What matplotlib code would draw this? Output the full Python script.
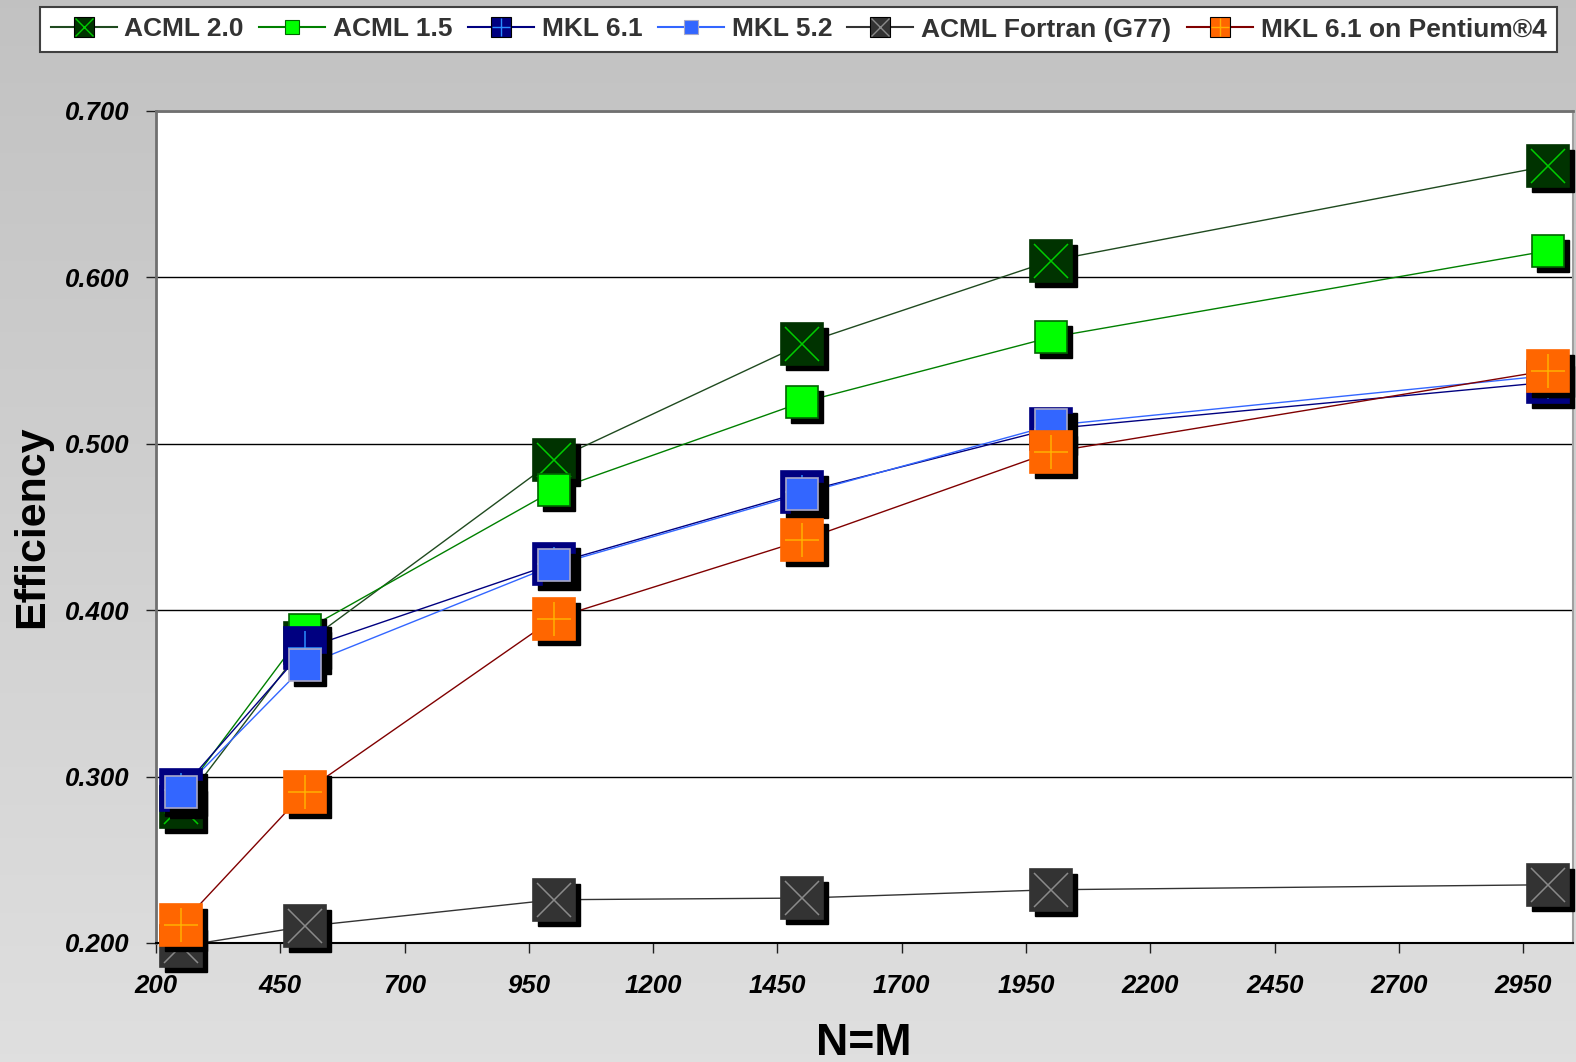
import matplotlib
matplotlib.use("Agg")
import matplotlib.pyplot as plt
from matplotlib.transforms import offset_copy
from matplotlib.lines import Line2D
from matplotlib.ticker import FormatStrFormatter
import numpy as np

plt.rcParams['font.family'] = ['Liberation Sans', 'DejaVu Sans']

# Data
sizes = [250, 500, 1000, 1500, 2000, 3000]
acml20 = [0.282, 0.380, 0.490, 0.560, 0.610, 0.667]
acml15 = [0.288, 0.388, 0.472, 0.525, 0.564, 0.616]
mkl61 = [0.292, 0.377, 0.428, 0.471, 0.509, 0.537]
mkl52 = [0.291, 0.367, 0.427, 0.470, 0.511, 0.541]
fortran = [0.198, 0.210, 0.226, 0.227, 0.232, 0.235]
mkl61_p4 = [0.211, 0.291, 0.395, 0.442, 0.495, 0.544]

labels = ["ACML 2.0", "ACML 1.5", "MKL 6.1", "MKL 5.2",
          "ACML Fortran (G77)", "MKL 6.1 on Pentium\u00ae4"]
values = [acml20, acml15, mkl61, mkl52, fortran, mkl61_p4]

xticks = list(range(200, 3000, 250))
yticks = [0.2, 0.3, 0.4, 0.5, 0.6, 0.7]

# line colour, face, edge, marker size, glyph, glyph colour
styles = [
    ("#1f4a1f", "#003300", "#003300", 30, "x", "#00cc00"),
    ("#008000", "#00ff00", "#006600", 23, None, None),
    ("#000080", "#000080", "#000080", 30, "+", "#2a8cff"),
    ("#3366ff", "#3366ff", "#a8a8c8", 23, None, None),
    ("#333333", "#333333", "#333333", 30, "x", "#8a8a8a"),
    ("#800000", "#ff6600", "#ff6600", 30, "+", "#ffb000"),
]

W, H = 1576, 1062
fig = plt.figure(figsize=(W / 100, H / 100), dpi=100)

# Gradient grey background
bg = fig.add_axes([0, 0, 1, 1], zorder=-10)
grad = np.linspace(0.76, 0.875, 256)
bg.imshow(np.dstack([grad, grad, grad]).reshape(256, 1, 3), aspect="auto",
          extent=[0, 1, 0, 1])
bg.axis("off")

ax = fig.add_axes([156 / W, 1 - 943 / H, (1573 - 156) / W, (943 - 111) / H])
ax.set_facecolor("white")

shadow_tr = offset_copy(ax.transData, fig=fig, x=5, y=-5, units="dots")

handles = []
for i, (lab, vals, st) in enumerate(zip(labels, values, styles)):
    lc, face, edge, ms, glyph, gc = st
    ax.plot(sizes, vals, color=lc, lw=1.0, zorder=2)
    z = 3 + i * 0.1
    ax.plot(sizes, vals, ls="none", marker="s", ms=ms, mfc="black",
            mec="black", transform=shadow_tr, zorder=z, clip_on=False)
    ax.plot(sizes, vals, ls="none", marker="s", ms=ms, mfc=face, mec=edge,
            mew=1.2, zorder=z + 0.01, clip_on=False)
    if glyph:
        ax.plot(sizes, vals, ls="none", marker=glyph, ms=ms * 0.8, mec=gc,
                mew=1.1, zorder=z + 0.02, clip_on=False)
    lms = 15 if ms == 30 else 9.5
    h_line = Line2D([], [], color=lc, lw=1.5, marker="s", ms=lms,
                    mfc=face, mec=edge if ms != 30 else "black", mew=0.8)
    if glyph:
        h_glyph = Line2D([], [], ls="none", marker=glyph, ms=lms * 0.85,
                         mec=gc, mew=1.0)
        handles.append((h_line, h_glyph))
    else:
        handles.append(h_line)

ax.set_xlim(200, 3050)
ax.set_ylim(0.2, 0.7)
ax.set_xticks(xticks)
ax.set_yticks(yticks)
ax.yaxis.set_major_formatter(FormatStrFormatter("%.3f"))
ax.yaxis.grid(True, color="black", lw=1.0)
ax.set_axisbelow(True)
ax.tick_params(axis="both", direction="out", length=7, width=1,
               color="#202020", labelsize=18.5)
ax.tick_params(axis="x", pad=15)
ax.tick_params(axis="y", pad=12)
for lbl in ax.get_xticklabels() + ax.get_yticklabels():
    lbl.set_fontweight("bold")
    lbl.set_fontstyle("italic")

ax.spines["left"].set_color("#707070")
ax.spines["left"].set_linewidth(2)
ax.spines["top"].set_color("#707070")
ax.spines["top"].set_linewidth(2)
ax.spines["right"].set_color("#a0a0a0")
ax.spines["right"].set_linewidth(1.5)
ax.spines["bottom"].set_color("black")
ax.spines["bottom"].set_linewidth(1.5)

fig.text(32 / W, 1 - 527 / H, "Efficiency", rotation=90, fontsize=31,
         fontweight="bold", ha="center", va="center")
fig.text(864 / W, 7 / H, "N=M", fontsize=32, fontweight="bold",
         ha="center", va="baseline")

leg = fig.legend(handles, labels, ncol=6, loc="center",
                 bbox_to_anchor=(40 / W, 1 - 55 / H, 1517 / W, 51 / H),
                 mode="expand", fancybox=False, framealpha=1,
                 edgecolor="#404040", prop=dict(weight="bold", size=19),
                 handlelength=2.5, handletextpad=0.3, borderaxespad=0,
                 columnspacing=0.5)
leg.get_frame().set_linewidth(1.5)
for t in leg.get_texts():
    t.set_color("#333333")

fig.savefig("out.png", dpi=100)
